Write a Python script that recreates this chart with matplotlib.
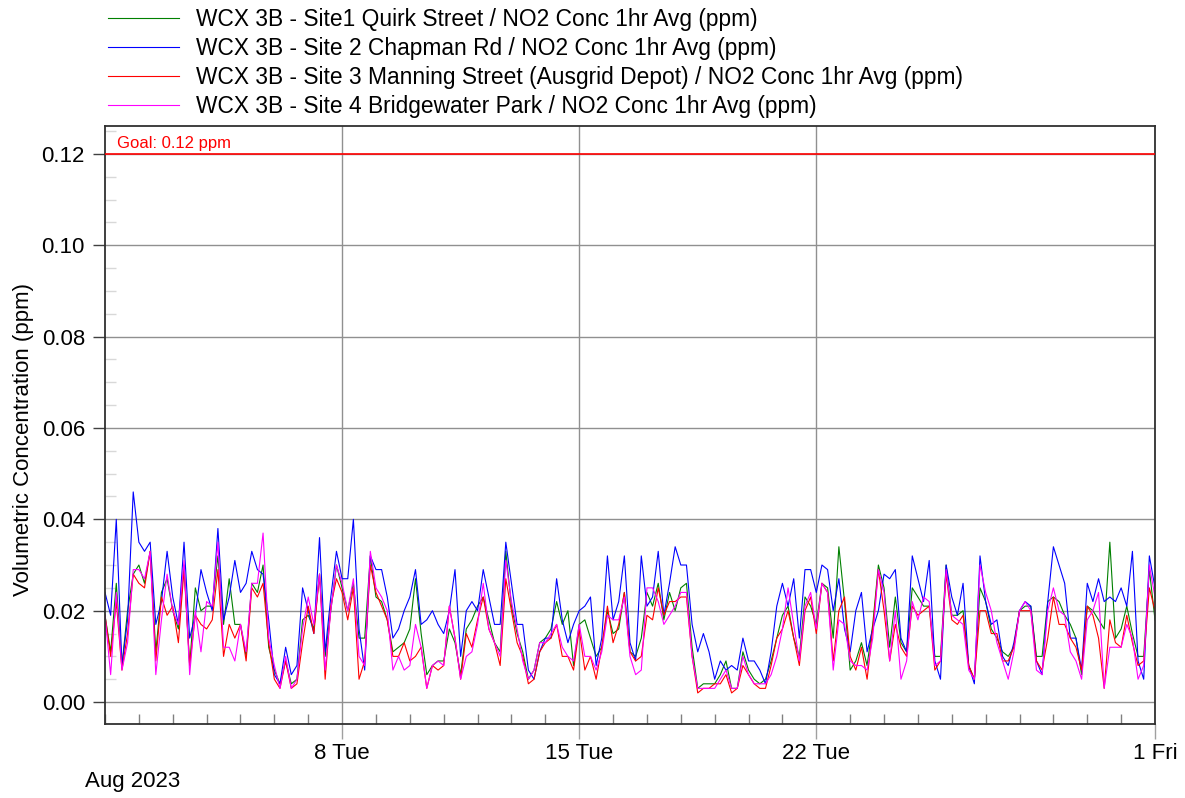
import numpy as np
import pandas as pd
import matplotlib
matplotlib.use("Agg")
import matplotlib.pyplot as plt
import matplotlib.dates as mdates

plt.rcParams['font.family'] = ['Liberation Sans', 'DejaVu Sans']

# 4-hourly readings in ppb (divide by 1000 for ppm), 1 Aug 00:00 -> 1 Sep 00:00
times = pd.date_range('2023-08-01', periods=187, freq='4h')

site1 = [  # Quirk Street (green)
    19, 11, 26, 8, 20, 28,   30, 26, 33, 11, 24, 27,   20, 16, 30, 8, 25, 20,
    21, 21, 32, 17, 27, 17,  17, 10, 26, 24, 30, 12,   7, 4, 9, 4, 5, 18,
    19, 16, 28, 10, 20, 30,  25, 20, 26, 14, 14, 32,   23, 22, 18, 11, 12, 13,
    16, 27, 15, 6, 8, 9,     9, 16, 13, 6, 16, 18,     21, 23, 18, 13, 11, 33,
    21, 15, 11, 5, 7, 13,    14, 16, 22, 17, 20, 8,    17, 18, 14, 10, 12, 20,
    15, 16, 24, 11, 10, 14,  24, 21, 26, 18, 24, 20,   25, 26, 12, 3, 4, 4,
    4, 6, 9, 3, 3, 11,       7, 5, 4, 5, 9, 14,        19, 21, 14, 10, 23, 21,
    17, 26, 25, 14, 34, 22,  7, 9, 13, 8, 17, 30,      25, 12, 23, 13, 11, 25,
    23, 21, 21, 10, 10, 30,  19, 19, 20, 8, 5, 25,     22, 16, 14, 11, 10, 12,
    20, 21, 21, 10, 10, 22,  23, 22, 19, 17, 14, 6,    21, 20, 18, 16, 35, 14,
    16, 21, 15, 10, 10, 29,  18,
]
site2 = [  # Chapman Rd (blue)
    24, 19, 40, 8, 18, 46,   35, 33, 35, 17, 22, 33,   23, 17, 35, 14, 19, 29,
    24, 20, 38, 18, 23, 31,  24, 26, 33, 29, 28, 18,   6, 4, 12, 6, 8, 25,
    20, 15, 36, 11, 23, 33,  27, 27, 40, 16, 7, 32,    29, 29, 23, 14, 16, 20,
    23, 29, 17, 18, 20, 17,  15, 20, 29, 10, 20, 22,   20, 29, 23, 17, 17, 35,
    26, 17, 17, 7, 5, 11,    14, 14, 27, 18, 13, 17,   20, 21, 23, 8, 14, 32,
    18, 22, 32, 13, 9, 32,   21, 23, 33, 19, 26, 34,   30, 30, 17, 11, 15, 11,
    5, 9, 7, 8, 7, 14,       9, 9, 7, 4, 11, 21,       26, 21, 27, 14, 29, 29,
    24, 30, 29, 20, 27, 16,  11, 20, 24, 11, 16, 20,   28, 27, 29, 14, 11, 32,
    27, 22, 31, 9, 5, 30,    23, 19, 26, 8, 4, 32,     22, 17, 18, 10, 8, 13,
    20, 22, 21, 9, 6, 22,    34, 30, 26, 14, 14, 7,    26, 22, 27, 22, 23, 22,
    25, 21, 33, 9, 5, 32,    25,
]
site3 = [  # Manning Street (red)
    19, 10, 22, 7, 15, 28,   26, 25, 33, 9, 23, 19,    21, 13, 29, 8, 19, 17,
    16, 18, 29, 10, 17, 14,  17, 9, 25, 23, 26, 13,    5, 3, 9, 3, 4, 13,
    21, 15, 28, 5, 21, 27,   24, 18, 25, 5, 9, 30,     24, 21, 18, 10, 10, 13,
    9, 10, 12, 3, 8, 7,      8, 21, 14, 5, 15, 12,     18, 23, 16, 13, 8, 27,
    20, 13, 10, 4, 5, 11,    13, 14, 17, 10, 10, 7,    16, 7, 10, 5, 12, 21,
    13, 17, 24, 11, 9, 10,   19, 18, 25, 19, 22, 22,   23, 23, 10, 2, 3, 3,
    4, 4, 6, 2, 3, 8,        6, 4, 3, 3, 8, 14,        16, 20, 14, 8, 20, 23,
    15, 26, 24, 9, 20, 23,   10, 7, 12, 5, 16, 29,     20, 9, 17, 12, 10, 21,
    19, 20, 21, 7, 9, 28,    18, 17, 19, 8, 5, 20,     20, 15, 15, 9, 9, 12,
    20, 20, 20, 9, 7, 14,    23, 17, 17, 14, 12, 7,    21, 19, 14, 3, 18, 13,
    12, 19, 13, 8, 9, 25,    20,
]
site4 = [  # Bridgewater Park (magenta)
    19, 6, 24, 7, 13, 29,    29, 27, 33, 6, 18, 28,    20, 17, 31, 6, 20, 11,
    22, 21, 35, 12, 12, 9,   17, 11, 26, 26, 37, 14,   8, 3, 10, 3, 5, 16,
    23, 17, 28, 7, 20, 30,   26, 20, 27, 10, 8, 33,    25, 23, 20, 7, 10, 7,
    8, 17, 12, 3, 8, 9,      8, 21, 14, 5, 10, 11,     17, 26, 16, 13, 10, 31,
    22, 16, 9, 5, 7, 13,     13, 15, 17, 12, 10, 9,    17, 10, 10, 7, 11, 19,
    18, 18, 23, 10, 6, 7,    25, 25, 22, 17, 19, 21,   24, 24, 10, 3, 3, 3,
    3, 5, 7, 3, 3, 10,       6, 4, 4, 4, 6, 10,        16, 25, 17, 9, 21, 24,
    16, 26, 24, 7, 18, 17,   9, 8, 8, 7, 14, 29,       24, 9, 20, 5, 9, 22,
    18, 23, 22, 8, 9, 29,    19, 18, 17, 7, 5, 30,     24, 20, 13, 9, 5, 11,
    20, 22, 20, 7, 6, 20,    25, 20, 19, 11, 9, 5,     18, 20, 24, 3, 12, 12,
    12, 17, 14, 5, 8, 30,    23,
]

labels = [
    'WCX 3B - Site1 Quirk Street / NO2 Conc 1hr Avg (ppm)',
    'WCX 3B - Site 2 Chapman Rd / NO2 Conc 1hr Avg (ppm)',
    'WCX 3B - Site 3 Manning Street (Ausgrid Depot) / NO2 Conc 1hr Avg (ppm)',
    'WCX 3B - Site 4 Bridgewater Park / NO2 Conc 1hr Avg (ppm)',
]
colors = ['#008000', '#0000ff', '#ff0000', '#ff00ff']
goal = 0.12

fig = plt.figure(figsize=(11.85, 7.98), dpi=100)
ax = fig.add_axes([105 / 1185, 1 - 724 / 798, 1050 / 1185, 598 / 798])

lines = []
for vals, lab, col in zip([site1, site2, site3, site4], labels, colors):
    ln, = ax.plot(times, np.array(vals) / 1000, color=col, lw=0.8, label=lab)
    lines.append(ln)

ax.axhline(goal, color='#ff0000', lw=1.2, zorder=5)
ax.text(pd.Timestamp('2023-08-01 08:30'), goal + 0.0013, 'Goal: 0.12 ppm',
        color='#ff0000', fontsize=12, va='baseline')

ax.set_xlim(pd.Timestamp('2023-08-01'), pd.Timestamp('2023-09-01'))
ax.set_ylim(-0.0048, 0.1261)

# y axis
ax.set_yticks(np.arange(0, 0.121, 0.02))
ax.yaxis.set_major_formatter(plt.FuncFormatter(lambda v, p: f'{v:.2f}'))
ax.set_yticks(np.arange(0, 0.126, 0.005), minor=True)
ax.tick_params(axis='y', which='major', direction='out', length=8.6, width=1,
               color='#404040', labelsize=16, pad=5.8)
ax.tick_params(axis='y', which='minor', direction='in', length=8, width=1,
               color='#d8d8d8')
ax.set_ylabel('Volumetric Concentration (ppm)', fontsize=16)
ax.yaxis.set_label_coords(-0.068, 0.475)

# x axis
week_ticks = pd.to_datetime(['2023-08-08', '2023-08-15', '2023-08-22', '2023-09-01'])
ax.set_xticks(week_ticks)
ax.set_xticklabels([f'{d.day} {d.strftime("%a")}' for d in week_ticks])
ax.xaxis.set_minor_locator(mdates.DayLocator())
ax.tick_params(axis='x', which='major', direction='out', length=11, width=1,
               color='#a0a0a0', labelsize=16, pad=2.5)
ax.tick_params(axis='x', which='minor', direction='in', length=7, width=1,
               color='#808080')
fig.text(85 / 1185, 1 - 781 / 798, 'Aug 2023', fontsize=16, va='center')

ax.grid(True, which='major', color='#909090', lw=1)
for s in ax.spines.values():
    s.set_color('#303030')
    s.set_linewidth(1.3)

fig.legend(handles=lines, loc='upper left', bbox_to_anchor=(108 / 1185, 1 - 8 / 798),
           frameon=False, fontsize=16.4, handlelength=3.1, handletextpad=0.78,
           labelspacing=0.27, borderpad=0, borderaxespad=0)

fig.savefig('out.png', dpi=100)
